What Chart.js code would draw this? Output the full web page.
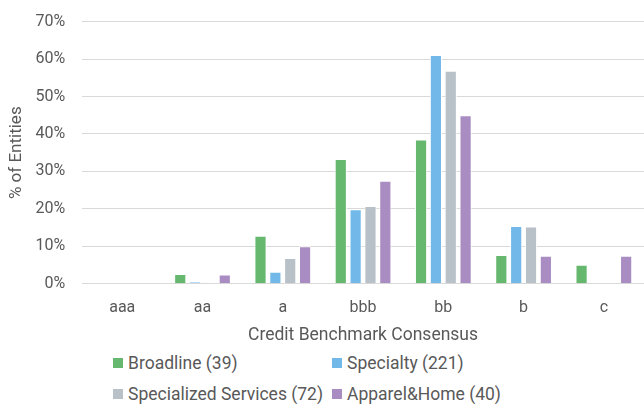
<!DOCTYPE html>
<html>
<head>
<meta charset="utf-8">
<script src="https://cdn.jsdelivr.net/npm/chart.js@4"></script>
<style>
    body { margin: 0; background: #fff; font-family: Roboto, sans-serif; overflow: hidden; }
    #wrap { position: relative; width: 644px; height: 407px; overflow: hidden; }
    #chartBox { position: absolute; left: 0; top: -5px; width: 644px; height: 351px; }
    #legend {
        position: absolute; left: 113px; top: 352px;
        display: grid; grid-template-columns: 219px 219px;
        row-gap: 9px; color: #595959; font-size: 17.5px;
    }
    .item { display: flex; align-items: center; white-space: nowrap; height: 22px; }
    .box { width: 10px; height: 10px; margin-right: 5px; }
</style>
</head>
<body>
<div id="wrap">
    <div id="chartBox"><canvas id="chart"></canvas></div>
    <div id="legend"></div>
</div>
<script>
// Data
const ratings = ['aaa', 'aa', 'a', 'bbb', 'bb', 'b', 'c'];
const seriesNames = ['Broadline (39)', 'Specialty (221)', 'Specialized Services (72)', 'Apparel&Home (40)'];
const broadline = [0, 2.6, 12.8, 33.3, 38.5, 7.7, 5.1];
const specialty = [0, 0.5, 3.2, 19.9, 61.1, 15.4, 0];
const specialized = [0, 0, 6.9, 20.8, 56.9, 15.3, 0];
const apparel = [0, 2.5, 10, 27.5, 45, 7.5, 7.5];
const colors = ['#66b86e', '#72b8e8', '#b8c0c8', '#a98cc1'];

const textColor = '#595959';
const tickFont = { family: 'Roboto', size: 16 };
const titleFont = { family: 'Roboto', size: 17.5 };

const datasets = [broadline, specialty, specialized, apparel].map((values, i) => ({
    label: seriesNames[i],
    data: values,
    backgroundColor: colors[i],
    borderColor: '#ffffff',
    borderWidth: 1,
    barPercentage: 0.82,
    categoryPercentage: 0.74
}));

new Chart(document.getElementById('chart'), {
    type: 'bar',
    data: { labels: ratings, datasets: datasets },
    options: {
        responsive: true,
        maintainAspectRatio: false,
        animation: false,
        layout: { padding: { top: 1, right: 0, left: 7, bottom: 0 } },
        plugins: {
            legend: { display: false },
            tooltip: { enabled: false }
        },
        scales: {
            x: {
                grid: { display: false },
                border: { display: false },
                ticks: { color: textColor, font: tickFont, padding: 7 },
                title: {
                    display: true,
                    text: 'Credit Benchmark Consensus',
                    color: textColor,
                    font: titleFont,
                    padding: { top: 0, bottom: 0 }
                }
            },
            y: {
                min: 0,
                max: 70,
                ticks: {
                    stepSize: 10,
                    color: textColor,
                    font: tickFont,
                    padding: 17,
                    callback: v => v + '%'
                },
                grid: { color: '#d9d9d9', drawTicks: false },
                border: { display: false },
                title: {
                    display: true,
                    text: '% of Entities',
                    color: textColor,
                    font: { family: 'Roboto', size: 17 },
                    padding: { top: 0, bottom: -9 }
                }
            }
        }
    }
});

// Legend in two aligned columns like the reference
const legend = document.getElementById('legend');
seriesNames.forEach((name, i) => {
    const item = document.createElement('div');
    item.className = 'item';
    item.innerHTML = `<span class="box" style="background:${colors[i]}"></span>${name}`;
    legend.appendChild(item);
});
</script>
</body>
</html>
